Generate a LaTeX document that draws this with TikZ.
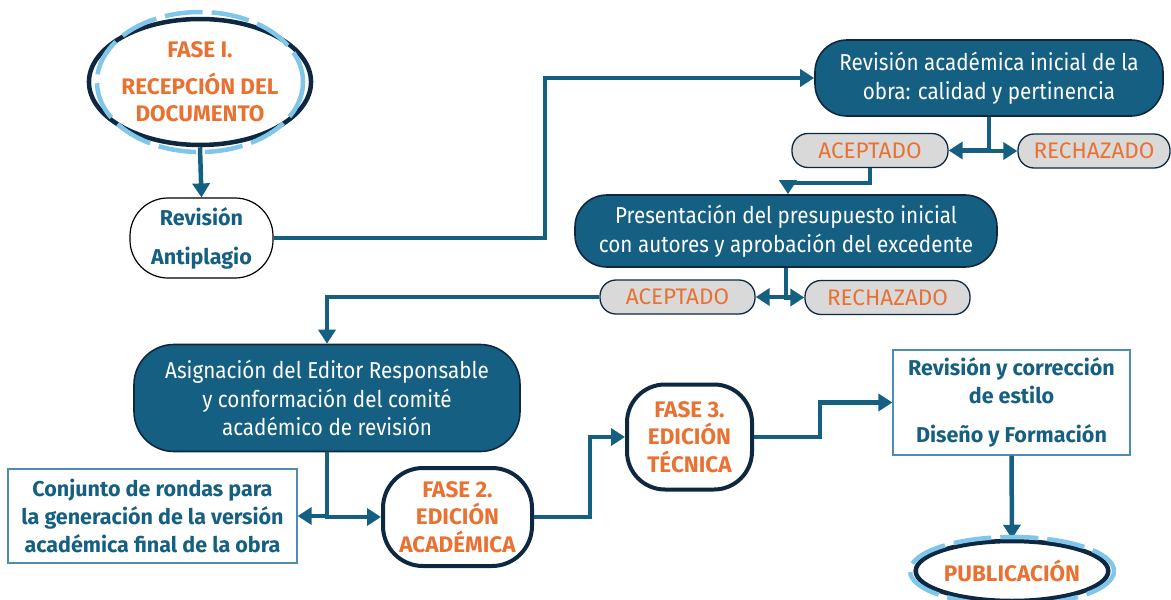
\documentclass[tikz,border=0pt]{standalone}
\usepackage{fontspec}
\setmainfont{Fira Sans}
\newfontfamily\cond[FakeStretch=0.9]{Fira Sans}
\usetikzlibrary{arrows.meta,shapes.geometric}
\definecolor{teal1}{HTML}{156082}
\definecolor{navy}{HTML}{0E2841}
\definecolor{orange1}{HTML}{E97132}
\definecolor{ringblue}{HTML}{80C6EA}
\definecolor{gray1}{HTML}{D9D9D9}
\definecolor{thinteal}{HTML}{4E8DB0}
\begin{document}
\begin{tikzpicture}[x=1pt,y=-1pt,
 darkbox/.style={draw=navy,line width=1.6pt,fill=teal1,text=white,font=\cond\fontsize{23}{28.5}\selectfont,align=center,inner sep=0pt},
 pill/.style={draw=navy,line width=1.3pt,fill=gray1,text=orange1,font=\fontsize{22.5}{24}\selectfont,rounded corners=16pt,inner sep=0pt,minimum height=34pt},
 phase/.style={draw=navy,line width=4pt,fill=white,text=orange1,font=\bfseries\fontsize{22.5}{27.5}\selectfont,align=center,inner sep=0pt},
 tealtxt/.style={text=teal1,font=\bfseries\fontsize{21.5}{28}\selectfont,align=center,inner sep=0pt},
 arr/.style={draw=teal1,line width=4.5pt,-{Triangle[length=14pt,width=17pt]}},
 ring/.style={draw=ringblue,line width=4.5pt,dash pattern=on 38pt off 9pt},
]
\useasboundingbox (0,0) rectangle (1171,600);

% nodes
\node[phase,ellipse,line width=4.5pt,minimum width=184pt,minimum height=126pt] (f1) at (200,82) {FASE I.\\[9pt]RECEPCIÓN DEL\\DOCUMENTO};
\draw[ring] (f1.center) ellipse [x radius=103, y radius=70];

\node[draw=black,line width=1.2pt,fill=white,rounded corners=38pt,minimum width=143pt,minimum height=80pt,tealtxt,font=\bfseries\fontsize{21.5}{39}\selectfont] (anti) at (201.5,238) {Revisión\\Antiplagio};

\node[darkbox,rounded corners=32pt,minimum width=348pt,minimum height=76pt] (rev) at (989,78) {Revisión académica inicial de la\\obra: calidad y pertinencia};

\node[pill,minimum width=156pt] (ac1) at (870,150.5) {ACEPTADO};
\node[pill,minimum width=152pt] (re1) at (1094,151) {RECHAZADO};

\node[darkbox,rounded corners=32pt,minimum width=422pt,minimum height=72pt] (pres) at (786,231) {Presentación del presupuesto inicial\\con autores y aprobación del excedente};

\node[pill,minimum width=155pt] (ac2) at (677.5,297) {ACEPTADO};
\node[pill,minimum width=165pt] (re2) at (887.5,297.5) {RECHAZADO};

\node[darkbox,rounded corners=40pt,minimum width=386pt,minimum height=107pt] (asig) at (327,398) {Asignación del Editor Responsable\\y conformación del comité\\académico de revisión};

\node[draw=thinteal,line width=1.2pt,fill=white,minimum width=289pt,minimum height=94pt,tealtxt] (conj) at (152.5,516) {Conjunto de rondas para\\la generación de la versión\\académica final de la obra};

\node[phase,rounded corners=40pt,minimum width=149pt,minimum height=98pt] (f2) at (457.5,517) {FASE 2.\\EDICIÓN\\ACADÉMICA};

\node[phase,rounded corners=38pt,minimum width=125pt,minimum height=105pt] (f3) at (689.5,437) {FASE 3.\\EDICIÓN\\TÉCNICA};

\node[draw=thinteal,line width=1.2pt,fill=white,minimum width=237pt,minimum height=105pt,tealtxt] (rcs) at (1011.5,402.5) {Revisión y corrección\\de estilo\\[11pt]Diseño y Formación};

\node[phase,ellipse,line width=4.5pt,minimum width=190pt,minimum height=60pt] (pub) at (1012,571) {PUBLICACIÓN};

% connectors
\coordinate (j1) at (545,0);
\coordinate (j2) at (788,183);
\coordinate (j4) at (590,0);
\coordinate (j5) at (820,0);

\draw[arr] (f1.south) -- (anti.north);
\draw[arr] (anti.east) -| (j1 |- rev.west) -- (rev.west);
\draw[arr] (rev.south) |- (ac1.east);
\draw[arr] (rev.south) |- (re1.west);
\draw[arr] (ac1.south) |- (j2) -- (j2 |- pres.north);
\draw[arr] (pres.south) |- (ac2.east);
\draw[arr] (pres.south) |- (re2.west);
\draw[arr] (ac2.west) -| (asig.north);
\draw[arr] (asig.south) |- (conj.east);
\draw[arr] (asig.south) |- (f2.west);
\draw[arr] (f2.east) -| (j4 |- f3.west) -- (f3.west);
\draw[arr] (f3.east) -| (j5 |- rcs.west) -- (rcs.west);
\draw[arr] (rcs.south) -- (pub.north);

\draw[ring] (pub.center) ellipse [x radius=102, y radius=34];
\end{tikzpicture}
\end{document}
